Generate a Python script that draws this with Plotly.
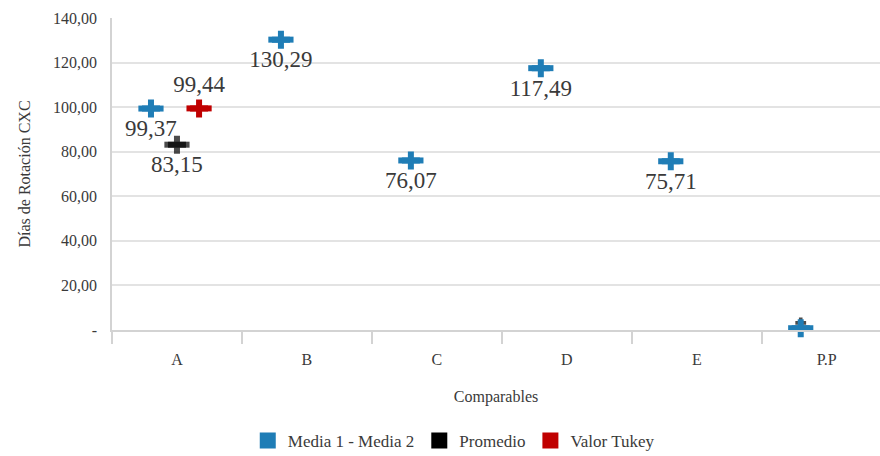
import plotly.graph_objects as go

# Comparables and their rotation-days values
categorias = ["A", "B", "C", "D", "E", "P.P"]
media_valores = [99.37, 130.29, 76.07, 117.49, 75.71, 0.8]
promedio_cats = ["A", "P.P"]
promedio_valores = [83.15, 3.2]
tukey_cats = ["A"]
tukey_valores = [99.44]

y_ticks = [0, 20, 40, 60, 80, 100, 120, 140]
y_ticktext = ["-", "20,00", "40,00", "60,00", "80,00", "100,00", "120,00", "140,00"]

AZUL = "#1f7db6"
NEGRO = "#000000"
ROJO = "#c00000"
SERIF = "Liberation Serif, Times New Roman, serif"
GRIS = "#d3d3d3"
TEXTO = "#3a3a3a"

idx = {c: i for i, c in enumerate(categorias)}
# horizontal offset of each series within its category slot
offset_media = -0.2
offset_promedio = {"A": 0.0, "P.P": -0.2}
offset_tukey = 0.17


def etiqueta(v):
    return f"{v:.2f}".replace(".", ",")


def serie(xs, ys, color, textpos, textos, bar_size=18, cross_size=15):
    """Blob-like marker: a wide horizontal bar plus a cross on top."""
    barra = go.Scatter(
        x=xs, y=ys, mode="markers", showlegend=False, hoverinfo="skip",
        marker=dict(symbol="line-ew", size=bar_size, line=dict(color=color, width=6)),
        cliponaxis=False,
    )
    cruz = go.Scatter(
        x=xs, y=ys, mode="markers+text", showlegend=False,
        marker=dict(symbol="cross", size=cross_size, color=color, line=dict(width=0)),
        text=textos, textposition=textpos,
        textfont=dict(family=SERIF, size=23, color=TEXTO),
        cliponaxis=False,
    )
    return [barra, cruz]


fig = go.Figure()

x_prom = [idx[c] + offset_promedio[c] for c in promedio_cats]
x_media = [idx[c] + offset_media for c in categorias]
x_tukey = [idx[c] + offset_tukey for c in tukey_cats]

# Promedio first so the P.P point sits mostly behind the blue marker
for t in serie(x_prom, promedio_valores, NEGRO, "bottom center",
               [etiqueta(promedio_valores[0]), ""],
               bar_size=[18, 0], cross_size=[15, 9]):
    fig.add_trace(t)

for t in serie(x_media, media_valores, AZUL, "bottom center",
               [etiqueta(v) for v in media_valores[:-1]] + [""]):
    fig.add_trace(t)

for t in serie(x_tukey, tukey_valores, ROJO, "top center",
               [etiqueta(v) for v in tukey_valores]):
    fig.add_trace(t)

# Legend entries with square swatches
for nombre, color in [("Media 1 - Media 2", AZUL), ("Promedio", NEGRO), ("Valor Tukey", ROJO)]:
    fig.add_trace(go.Scatter(
        x=[None], y=[None], mode="markers", name=nombre,
        marker=dict(symbol="square", size=16, color=color),
    ))

fig.update_layout(
    width=880, height=456,
    margin=dict(l=112, r=0, t=18, b=126),
    paper_bgcolor="white", plot_bgcolor="white",
    font=dict(family=SERIF, size=16, color=TEXTO),
    showlegend=True,
    legend=dict(
        orientation="h", x=0.445, xanchor="center",
        yref="container", y=0.033, yanchor="middle",
        font=dict(family=SERIF, size=17, color=TEXTO),
        itemwidth=30, tracegroupgap=0,
    ),
)

fig.update_xaxes(
    range=[-0.5, 5.41],
    tickmode="array", tickvals=list(range(len(categorias))), ticktext=categorias,
    ticks="", showgrid=False, zeroline=False,
    showline=True, linecolor=GRIS, linewidth=1.5,
    ticklabelstandoff=14,
    tickfont=dict(family=SERIF, size=16, color=TEXTO),
    minor=dict(
        tickmode="array",
        tickvals=[i - 0.5 for i in range(len(categorias) + 1)],
        ticks="outside", ticklen=12, tickcolor=GRIS, tickwidth=1.5, showgrid=False,
    ),
    title=dict(text="Comparables", font=dict(family=SERIF, size=16, color=TEXTO), standoff=24),
)

fig.update_yaxes(
    range=[0, 140],
    tickmode="array", tickvals=y_ticks, ticktext=y_ticktext,
    showgrid=True, gridcolor="#e3e3e3", gridwidth=1.5,
    zeroline=False, showline=True, linecolor=GRIS, linewidth=1.5,
    ticks="", ticklabelstandoff=10,
    tickfont=dict(family=SERIF, size=16, color=TEXTO),
    title=dict(text="Días de Rotación CXC", font=dict(family=SERIF, size=16, color=TEXTO), standoff=18),
)

fig.write_html("out.html")
